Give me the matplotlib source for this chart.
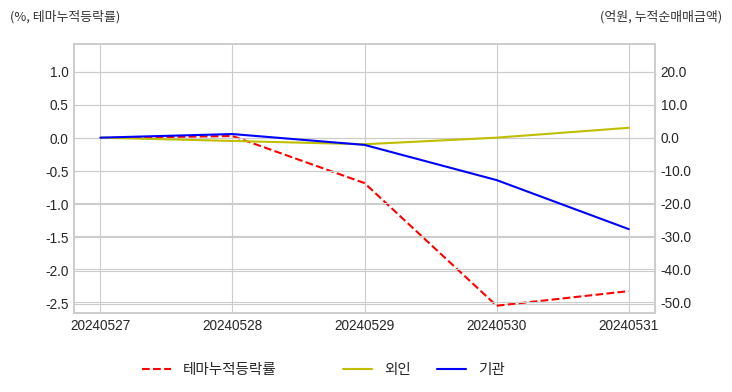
import matplotlib.pyplot as plt

# data
dates = ["20240527", "20240528", "20240529", "20240530", "20240531"]
theme_rate = [0.0, 0.03, -0.68, -2.53, -2.31]  # %, left axis
foreign = [0.0, -1.0, -2.0, 0.0, 3.0]  # 억원, right axis
institution = [0.0, 1.1, -2.2, -12.9, -27.8]  # 억원, right axis

plt.style.use("seaborn-v0_8-whitegrid")
plt.rcParams["font.family"] = ["Liberation Sans", "Noto Sans CJK KR", "DejaVu Sans"]
plt.rcParams["axes.unicode_minus"] = False

fig = plt.figure(figsize=(7.32, 3.92), dpi=100)
ax1 = fig.add_axes([0.101, 0.2015, 0.794, 0.6865])
ax2 = ax1.twinx()

x = list(range(len(dates)))
(l1,) = ax1.plot(x, theme_rate, color="r", linestyle="--", linewidth=1.5, label="테마누적등락률")
(l2,) = ax2.plot(x, foreign, color="y", linewidth=1.5, label="외인")
(l3,) = ax2.plot(x, institution, color="b", linewidth=1.5, label="기관")

ax1.set_xlim(-0.2, 4.2)
ax1.set_ylim(-2.64, 1.42)
ax2.set_ylim(-53.3, 28.5)
ax1.set_xticks(x)
ax1.set_xticklabels(dates)
left_ticks = [1.0, 0.5, 0.0, -0.5, -1.0, -1.5, -2.0, -2.5]
right_ticks = [20, 10, 0, -10, -20, -30, -40, -50]
ax1.set_yticks(left_ticks)
ax1.set_yticklabels([f"{v:.1f}" for v in left_ticks])
ax2.set_yticks(right_ticks)
ax2.set_yticklabels([f"{v:.1f}" for v in right_ticks])
ax2.grid(True)

for ax in (ax1, ax2):
    ax.tick_params(labelsize=9.8, pad=4, labelcolor="#262626")
    for s in ax.spines.values():
        s.set_color("#cccccc")
        s.set_linewidth(1.2)

fig.text(0.013, 0.958, "(%, 테마누적등락률)", fontsize=9.3, color="#333333",
         family=["Noto Sans CJK KR", "DejaVu Sans"], va="center", ha="left")
fig.text(0.987, 0.958, "(억원, 누적순매매금액)", fontsize=9.3, color="#333333",
         family=["Noto Sans CJK KR", "DejaVu Sans"], va="center", ha="right")

leg_font = {"family": ["Noto Sans CJK KR", "DejaVu Sans"], "size": 10.5}
leg1 = fig.legend(handles=[l1], loc="center left", bbox_to_anchor=(0.176, 0.056),
                  prop=leg_font, frameon=False, handlelength=2.0)
leg2 = fig.legend(handles=[l2, l3], loc="center left", bbox_to_anchor=(0.451, 0.056),
                  prop=leg_font, frameon=False, ncol=2, handlelength=2.0, columnspacing=1.8)

fig.savefig("out.png", dpi=100)
